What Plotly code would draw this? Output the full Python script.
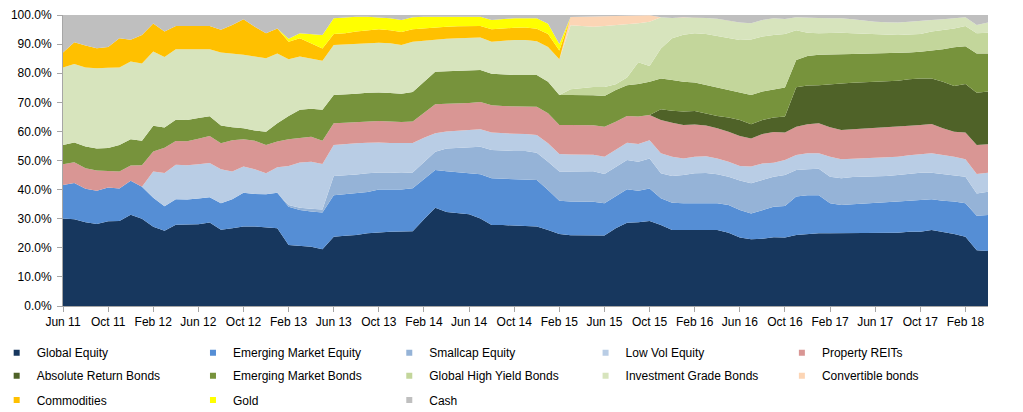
import plotly.graph_objects as go
import pandas as pd

# Monthly category labels, Jun 2011 .. Apr 2018
months = [d.strftime("%b %y") for d in pd.date_range("2011-06-01", "2018-04-01", freq="MS")]
tick_labels = ["Jun 11", "Oct 11", "Feb 12", "Jun 12", "Oct 12", "Feb 13", "Jun 13", "Oct 13",
               "Feb 14", "Jun 14", "Oct 14", "Feb 15", "Jun 15", "Oct 15", "Feb 16", "Jun 16",
               "Oct 16", "Feb 17", "Jun 17", "Oct 17", "Feb 18"]
y_ticks = [0, 10, 20, 30, 40, 50, 60, 70, 80, 90, 100]
y_tick_labels = ["0.0%", "10.0%", "20.0%", "30.0%", "40.0%", "50.0%", "60.0%", "70.0%",
                 "80.0%", "90.0%", "100.0%"]

global_equity = [30.1, 29.8, 28.8, 28.2, 29.1, 29.2, 31.4, 30.0, 27.2, 25.9, 27.9, 27.9, 28.1, 28.7, 26.2,
                 26.7, 27.3, 27.3, 27.0, 26.7, 21.0, 20.6, 20.4, 19.5, 23.8, 24.1, 24.4, 25.0,
                 25.3, 25.5, 25.6, 25.7, 29.8, 33.8, 32.3, 31.9, 31.5, 30.1, 27.8, 27.8, 27.7, 27.6, 27.3, 26.1, 24.7,
                 24.3, 24.2, 24.3, 24.2, 26.7, 28.6, 28.8, 29.2, 27.8, 26.1, 26.1,
                 26.1, 26.1, 26.1, 25.2, 23.5, 22.9, 23.1, 23.6, 23.5, 24.4, 24.7, 25.0, 25.0, 25.0,
                 25.2, 25.2, 25.2, 25.2, 25.2, 25.5, 25.5, 26.1, 25.5, 24.7, 23.8, 19.2, 18.9]
em_equity = [11.5, 12.5, 11.5, 11.4, 11.6, 11.2, 11.6, 11.0, 10.0, 8.4, 8.8, 8.7, 8.8, 8.7, 9.1,
             10.0, 11.6, 11.2, 11.4, 12.2, 13.1, 12.4, 12.1, 12.6, 14.3, 14.3, 14.3, 14.2,
             14.7, 14.6, 14.4, 14.8, 13.8, 12.9, 14.0, 14.1, 14.2, 15.2, 16.1, 16.0, 16.0, 16.0, 16.0, 13.8, 11.5,
             11.6, 11.7, 11.5, 11.1, 10.9, 11.5, 10.8, 11.2, 9.2, 9.4, 9.2,
             9.2, 9.4, 9.2, 9.5, 9.5, 8.9, 9.8, 10.5, 10.9, 13.2, 13.4, 13.1, 10.3, 9.7,
             9.8, 10.0, 10.1, 10.4, 10.7, 10.7, 10.9, 10.6, 10.7, 11.2, 11.5, 11.8, 12.4]
smallcap_equity = [0, 0, 0, 0, 0, 0, 0, 0, 0, 0, 0, 0, 0, 0, 0, 0, 0, 0, 0, 0,
                   0.6, 0.8, 0.9, 1.1, 6.6, 6.5, 6.5, 6.4,
                   5.9, 5.8, 5.7, 5.4, 5.9, 6.3, 7.8, 8.3, 8.8, 9.4, 9.7, 9.6, 9.6, 9.7, 9.4, 9.7, 10.0,
                   10.3, 10.3, 10.5, 10.1, 10.3, 10.1, 10.0, 10.3, 8.6, 9.2, 9.7,
                   10.3, 10.2, 10.0, 9.7, 10.1, 10.4, 10.4, 10.3, 10.6, 9.1, 8.9, 9.1, 9.1, 9.2,
                   9.3, 9.2, 9.1, 9.1, 9.1, 9.3, 9.4, 9.1, 9.2, 9.1, 9.1, 7.7, 8.0]
low_vol_equity = [0, 0, 0, 0, 0, 0, 0, 0, 9.0, 11.4, 11.8, 11.8, 11.8, 11.7, 11.7,
                  9.5, 9.0, 8.5, 7.2, 8.8, 13.4, 15.5, 16.2, 15.6, 10.6, 10.8, 10.7, 10.5,
                  10.3, 10.1, 10.3, 10.1, 8.3, 6.4, 5.9, 6.0, 6.0, 6.0, 6.0, 5.9, 5.9, 5.8, 6.1, 6.3, 6.0,
                  5.9, 5.9, 5.7, 5.9, 5.7, 5.9, 6.1, 6.3, 6.9, 6.6, 5.7,
                  5.7, 5.8, 5.4, 5.2, 5.0, 5.7, 5.7, 4.8, 5.2, 5.2, 5.5, 5.3, 6.9, 6.5,
                  6.3, 6.4, 6.6, 6.5, 6.3, 6.3, 6.4, 6.7, 6.5, 6.3, 6.0, 6.7, 6.5]
property_reits = [7.1, 7.1, 7.0, 7.0, 5.7, 5.8, 5.3, 7.4, 6.9, 8.7, 8.2, 8.2, 8.8, 9.3, 8.9,
                  10.8, 9.4, 9.8, 9.7, 8.8, 9.2, 8.5, 8.6, 8.0, 7.5, 7.3, 7.3, 7.5,
                  7.4, 7.4, 7.2, 7.4, 8.7, 9.9, 9.5, 9.3, 9.3, 9.4, 9.4, 9.4, 9.4, 9.4, 9.7, 10.3, 10.0,
                  10.1, 10.1, 10.1, 10.3, 9.7, 9.2, 9.4, 8.6, 11.4, 11.7, 11.5,
                  11.1, 10.5, 10.4, 10.3, 10.3, 9.7, 10.1, 10.6, 9.4, 9.7, 10.0, 10.3, 10.1, 10.1,
                  10.1, 10.1, 10.1, 10.2, 10.3, 10.1, 10.0, 10.0, 9.2, 8.6, 9.2, 9.9, 9.8]
absolute_return_bonds = [0, 0, 0, 0, 0, 0, 0, 0, 0, 0, 0, 0, 0, 0, 0, 0, 0, 0, 0, 0,
                         0, 0, 0, 0, 0, 0, 0, 0, 0, 0, 0, 0, 0, 0, 0, 0, 0, 0, 0, 0,
                         0, 0, 0, 0, 0, 0, 0, 0, 0, 0, 0, 0, 0,
                         3.7, 4.1, 4.6,
                         4.6, 4.2, 4.2, 4.9, 5.5, 4.9, 4.8, 5.0, 5.5, 13.6, 13.3, 13.1, 14.9, 16.0,
                         16.0, 16.0, 16.0, 15.9, 15.8, 16.0, 16.0, 15.7, 16.0, 15.7, 16.7, 18.0, 18.1]
em_bonds = [6.6, 6.8, 7.5, 7.5, 7.9, 9.1, 9.0, 8.4, 8.8, 6.9, 7.3, 7.3, 7.1, 6.8, 6.1,
            4.4, 3.8, 3.5, 4.6, 6.3, 8.0, 9.6, 9.6, 10.6, 9.7, 9.6, 9.7, 9.7,
            9.8, 9.8, 9.7, 10.1, 10.5, 11.2, 11.2, 11.2, 11.2, 11.0, 10.8, 10.8, 10.8, 10.9, 10.9, 10.9, 10.3,
            10.3, 10.3, 10.3, 10.6, 10.9, 10.6, 11.2, 11.5, 10.6, 10.6, 10.3,
            9.8, 9.7, 9.8, 9.4, 9.4, 10.0, 9.8, 9.7, 10.0, 9.3, 10.1, 10.4, 10.0, 10.0,
            9.9, 9.8, 9.7, 9.5, 9.4, 9.2, 9.2, 9.5, 11.1, 13.3, 13.0, 13.5, 13.1]
high_yield_bonds = [0, 0, 0, 0, 0, 0, 0, 0, 0, 0, 0, 0, 0, 0, 0, 0, 0, 0, 0, 0,
                    0, 0, 0, 0, 0, 0, 0, 0, 0, 0, 0, 0, 0, 0, 0, 0, 0, 0, 0, 0,
                    0, 0, 0, 0, 0,
                    2.0, 2.5, 2.9, 3.1, 2.0, 2.6, 7.5, 5.4, 10.3, 14.3, 16.1,
                    16.9, 17.6, 17.7, 17.8, 18.1, 19.1, 18.9, 18.6, 18.4, 10.3, 8.0, 7.4, 7.5, 7.4,
                    7.1, 6.9, 6.7, 6.5, 6.3, 6.2, 6.1, 6.6, 6.6, 6.5, 6.9, 6.9, 7.1]
investment_grade_bonds = [26.7, 27.0, 27.2, 27.6, 27.6, 26.7, 26.7, 26.5, 25.6, 24.3, 24.2, 24.3, 23.7, 23.0, 25.1,
                          25.4, 25.2, 25.4, 25.2, 24.0, 19.5, 18.3, 17.3, 16.9, 17.2, 17.3, 17.1, 17.0,
                          17.1, 17.1, 16.8, 17.3, 14.2, 10.9, 11.1, 11.2, 11.2, 11.2, 11.0, 11.7, 12.0, 12.0, 11.6, 11.9, 12.3,
                          22.0, 21.3, 20.7, 20.9, 20.3, 18.3, 13.4, 15.2, 10.7, 7.0, 6.0,
                          5.5, 5.5, 5.9, 6.1, 6.0, 5.6, 5.7, 5.8, 5.1, 4.4, 5.3, 5.3, 5.1, 5.0,
                          4.8, 4.4, 4.2, 4.2, 4.3, 4.4, 4.6, 4.0, 3.7, 3.5, 3.0, 2.9, 3.5]
convertible_bonds = [0, 0, 0, 0, 0, 0, 0, 0, 0, 0, 0, 0, 0, 0, 0, 0, 0, 0, 0, 0,
                     0, 0, 0, 0, 0, 0, 0, 0, 0, 0, 0, 0, 0, 0, 0, 0, 0, 0, 0, 0,
                     0, 0, 0, 0, 0,
                     2.8, 3.1, 3.5, 3.4, 3.1, 2.9, 2.6, 2.2,
                     0, 0, 0, 0, 0, 0, 0, 0, 0, 0, 0, 0, 0, 0, 0, 0, 0, 0, 0, 0,
                     0, 0, 0, 0, 0, 0, 0, 0, 0, 0]
commodities = [5.1, 7.4, 7.5, 6.9, 7.1, 10.0, 7.5, 9.8, 9.6, 8.7, 8.0, 8.1, 7.9, 8.0, 7.8,
               9.8, 12.2, 10.3, 8.6, 8.6, 6.0, 6.3, 5.2, 4.2, 3.8, 3.8, 4.3, 4.3,
               4.6, 4.5, 4.5, 4.3, 4.2, 4.4, 4.2, 4.1, 4.0, 3.9, 4.3, 4.2, 4.2, 4.3, 4.3, 4.5, 3.0,
               0, 0, 0, 0, 0, 0, 0, 0, 0, 0, 0, 0, 0, 0, 0, 0, 0, 0, 0, 0,
               0, 0, 0, 0, 0, 0, 0, 0, 0, 0, 0, 0, 0, 0, 0, 0, 0, 0]
gold = [0, 0, 0, 0, 0, 0, 0, 0, 0, 0, 0, 0, 0, 0, 0, 0, 0, 0, 0, 0,
        1.0, 1.7, 3.2, 4.6, 5.4, 5.5, 5.1, 4.8,
        4.1, 4.1, 4.1, 4.1, 4.0, 3.6, 3.4, 3.3, 3.2, 3.2, 3.2, 3.2, 3.3, 3.2, 3.6, 3.5, 2.2,
        0, 0, 0, 0, 0, 0, 0, 0, 0, 0, 0, 0, 0, 0, 0, 0, 0, 0, 0, 0,
        0, 0, 0, 0, 0, 0, 0, 0, 0, 0, 0, 0, 0, 0, 0, 0, 0, 0]
cash = [12.9, 9.4, 10.5, 11.4, 11.0, 8.0, 8.5, 6.9, 2.9, 5.7, 3.8, 3.7, 3.8, 3.8, 5.1,
        3.4, 1.5, 4.0, 6.3, 4.6, 8.2, 6.3, 6.5, 6.9, 1.1, 0.8, 0.6, 0.6,
        0.8, 1.1, 1.7, 0.8, 0.6, 0.6, 0.6, 0.6, 0.6, 0.6, 1.7, 1.4, 1.1, 1.1, 1.1, 3.0, 10.0,
        0.7, 0.6, 0.5, 0.4, 0.4, 0.3, 0.2, 0.1, 0.8, 1.0, 0.8,
        0.8, 1.0, 1.3, 1.9, 2.6, 2.8, 1.7, 1.1, 1.4, 0.8, 0.8, 1.0, 1.1, 1.1,
        1.5, 2.0, 2.3, 2.5, 2.6, 2.3, 1.9, 1.7, 1.5, 1.1, 0.8, 3.4, 2.6]

series = [
    ("Global Equity", global_equity, "#17375E", "legend"),
    ("Emerging Market Equity", em_equity, "#558ED5", "legend"),
    ("Smallcap Equity", smallcap_equity, "#95B3D7", "legend"),
    ("Low Vol Equity", low_vol_equity, "#B9CDE5", "legend"),
    ("Property REITs", property_reits, "#D99694", "legend"),
    ("Absolute Return Bonds", absolute_return_bonds, "#4F6228", "legend2"),
    ("Emerging Market Bonds", em_bonds, "#77933C", "legend2"),
    ("Global High Yield Bonds", high_yield_bonds, "#C3D69B", "legend2"),
    ("Investment Grade Bonds", investment_grade_bonds, "#D7E4BD", "legend2"),
    ("Convertible bonds", convertible_bonds, "#FCD5B5", "legend2"),
    ("Commodities", commodities, "#FFC000", "legend3"),
    ("Gold", gold, "#FFFF00", "legend3"),
    ("Cash", cash, "#BFBFBF", "legend3"),
]

FONT = "Liberation Sans, Arial, sans-serif"
fig = go.Figure()
for name, vals, col, lg in series:
    fig.add_trace(go.Scatter(
        x=months, y=vals, name=name, stackgroup="one", mode="lines",
        line=dict(width=0, color=col), fillcolor=col, showlegend=False,
        legendgroup=name,
    ))
for name, vals, col, lg in series:
    fig.add_trace(go.Scatter(
        x=[None], y=[None], name=name, mode="markers", legend=lg,
        marker=dict(symbol="square", size=6, color=col), legendgroup=name,
        showlegend=True, hoverinfo="skip",
    ))

legend_common = dict(orientation="h", x=-0.0717, xanchor="left", yanchor="top",
                     entrywidth=151.3, entrywidthmode="pixels", bgcolor="rgba(0,0,0,0)",
                     font=dict(family=FONT, size=12, color="#000000"), itemclick=False,
                     itemdoubleclick=False)

fig.update_layout(
    width=1023, height=412,
    margin=dict(l=63, r=35, t=15, b=106, autoexpand=False),
    paper_bgcolor="white", plot_bgcolor="white",
    font=dict(family=FONT, size=12, color="#000000"),
    showlegend=True,
    legend=dict(y=-0.1107, **legend_common),
    legend2=dict(y=-0.1897, **legend_common),
    legend3=dict(y=-0.2732, **legend_common),
    xaxis=dict(type="category", range=[0, len(months) - 1], tickmode="array",
               tickvals=tick_labels, ticktext=tick_labels, ticks="outside", ticklen=5,
               tickcolor="#A6A6A6", showline=True, linecolor="#A6A6A6", linewidth=1,
               showgrid=False, zeroline=False, tickfont=dict(size=12)),
    yaxis=dict(range=[0, 100], tickmode="array", tickvals=y_ticks, ticktext=y_tick_labels,
               ticks="outside", ticklen=5, tickcolor="#A6A6A6", ticklabelstandoff=3,
               showline=True, linecolor="#A6A6A6", linewidth=1, showgrid=False,
               zeroline=False, tickfont=dict(size=12)),
)

fig.write_html("out.html")
